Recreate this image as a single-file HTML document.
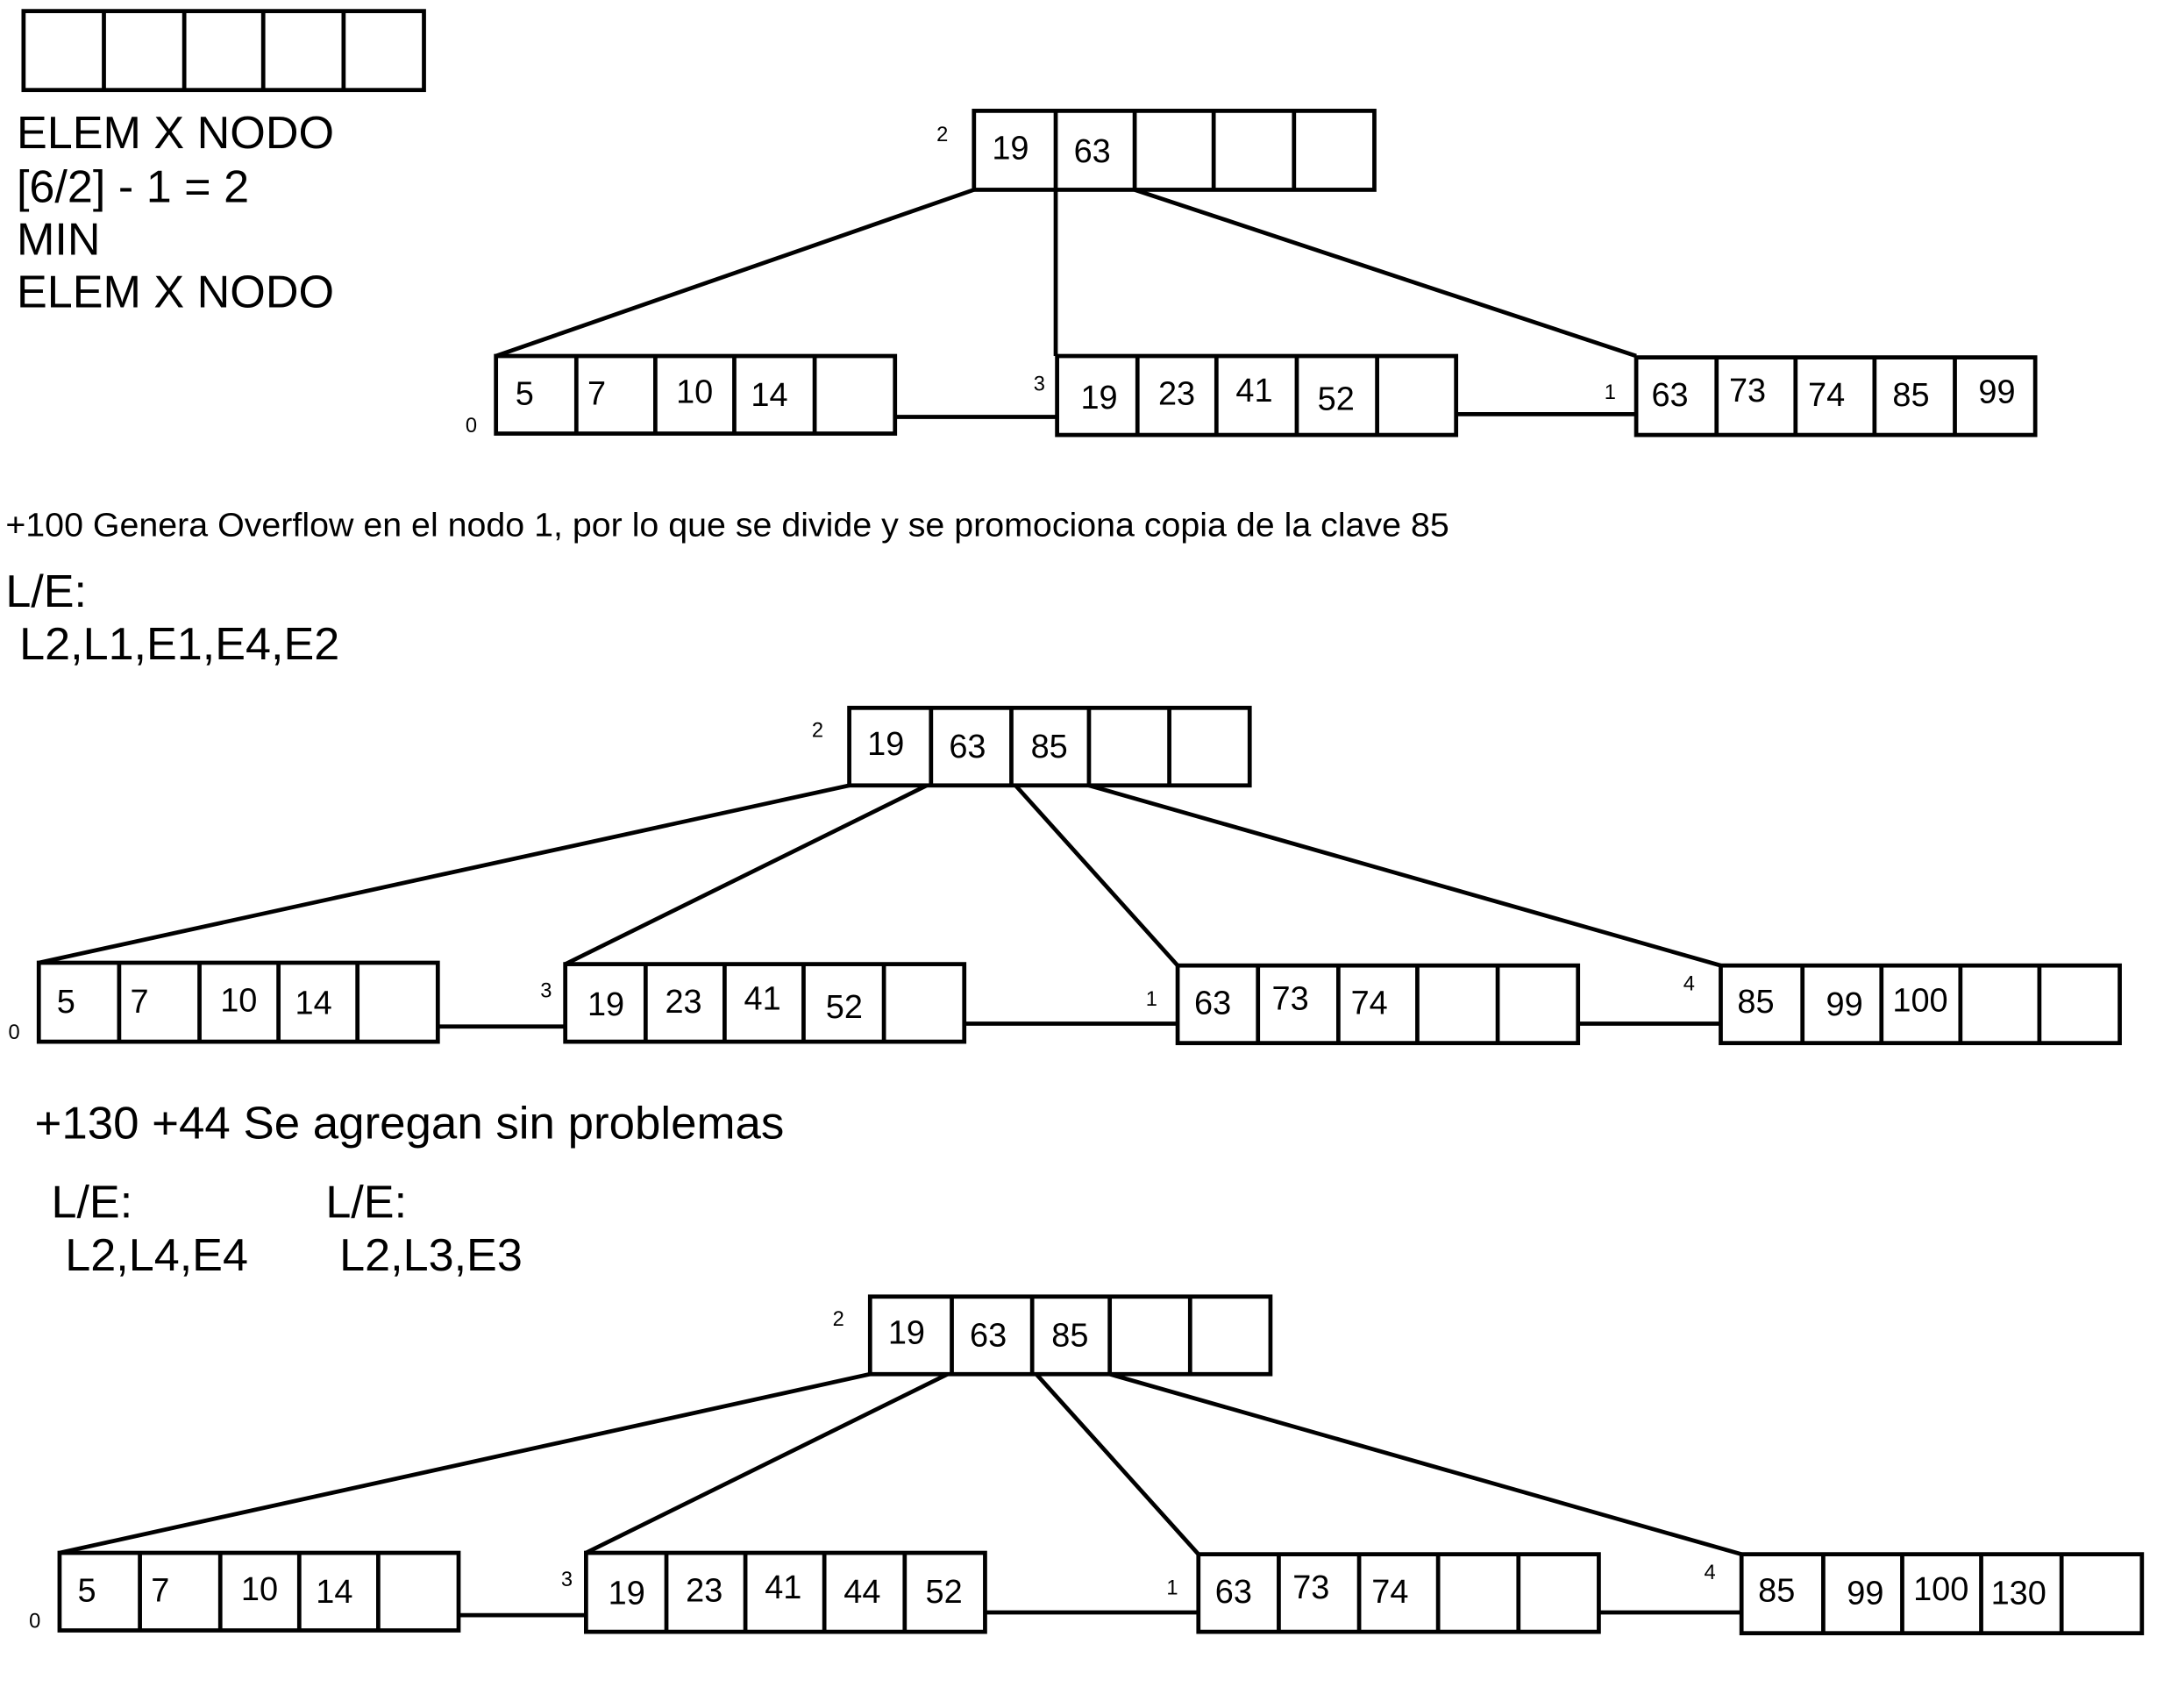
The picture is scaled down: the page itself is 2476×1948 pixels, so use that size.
<!DOCTYPE html>
<html><head><meta charset="utf-8"><style>
html,body{margin:0;padding:0;background:#fff;}
svg{display:block;}
text{font-family:"Liberation Sans",Arial,sans-serif;fill:#000;}
.c{font-size:24px;}
.s{font-size:15px;}
.b{font-size:33px;}
</style></head><body>
<svg width="2476" height="1948" viewBox="0 0 1567 1233" preserveAspectRatio="none" xmlns="http://www.w3.org/2000/svg">
<g fill="none" stroke="#000" stroke-width="3">
<rect x="17" y="8" width="289" height="57"/>
<path d="M75 8V65M133 8V65M190 8V65M248 8V65"/>
<rect x="703" y="80" width="289" height="57"/>
<path d="M762 80V137M819 80V137M876 80V137M934 80V137"/>
<rect x="358" y="257" width="288" height="56"/>
<path d="M416 257V313M473 257V313M530 257V313M588 257V313"/>
<rect x="763" y="257" width="288" height="57"/>
<path d="M821 257V314M878 257V314M936 257V314M994 257V314"/>
<rect x="1181" y="258" width="288" height="56"/>
<path d="M1239 258V314M1296 258V314M1353 258V314M1411 258V314"/>
<path d="M703 137L358 257M762 137V257M819 137L1181 257M646 301H763M1051 299H1181"/>
<rect x="613" y="511" width="289" height="56"/>
<path d="M672 511V567M730 511V567M786 511V567M844 511V567"/>
<rect x="28" y="695" width="288" height="57"/>
<path d="M86 695V752M144 695V752M201 695V752M258 695V752"/>
<rect x="408" y="696" width="288" height="56"/>
<path d="M466 696V752M523 696V752M580 696V752M638 696V752"/>
<rect x="850" y="697" width="289" height="56"/>
<path d="M908 697V753M966 697V753M1023 697V753M1081 697V753"/>
<rect x="1242" y="697" width="288" height="56"/>
<path d="M1301 697V753M1358 697V753M1415 697V753M1472 697V753"/>
<path d="M613 567L28 695M669 567L408 696M733 567L850 697M786 567L1242 697M316 741H408M696 739H850M1139 739H1242"/>
<rect x="628" y="936" width="289" height="56"/>
<path d="M687 936V992M745 936V992M801 936V992M859 936V992"/>
<rect x="43" y="1121" width="288" height="56"/>
<path d="M101 1121V1177M159 1121V1177M216 1121V1177M273 1121V1177"/>
<rect x="423" y="1121" width="288" height="57"/>
<path d="M481 1121V1178M538 1121V1178M595 1121V1178M653 1121V1178"/>
<rect x="865" y="1122" width="289" height="56"/>
<path d="M923 1122V1178M981 1122V1178M1038 1122V1178M1096 1122V1178"/>
<rect x="1257" y="1122" width="289" height="57"/>
<path d="M1316 1122V1179M1373 1122V1179M1430 1122V1179M1488 1122V1179"/>
<path d="M628 992L43 1121M684 992L423 1121M748 992L865 1122M801 992L1257 1122M331 1166H423M711 1164H865M1154 1164H1257"/>
</g>

<text class="b" x="12" y="107">ELEM X NODO</text>
<text class="b" x="12" y="146">[6/2] - 1 = 2</text>
<text class="b" x="12" y="184">MIN</text>
<text class="b" x="12" y="222">ELEM X NODO</text>

<text class="s" x="676" y="102">2</text>
<text class="c" x="716" y="115">19</text><text class="c" x="775" y="117">63</text>
<text class="s" x="336" y="312">0</text>
<text class="c" x="372" y="292">5</text><text class="c" x="424" y="292">7</text><text class="c" x="488" y="291">10</text><text class="c" x="542" y="293">14</text>
<text class="s" x="746" y="282">3</text>
<text class="c" x="780" y="295">19</text><text class="c" x="836" y="292">23</text><text class="c" x="892" y="290">41</text><text class="c" x="951" y="296">52</text>
<text class="s" x="1158" y="288">1</text>
<text class="c" x="1192" y="293">63</text><text class="c" x="1248" y="290">73</text><text class="c" x="1305" y="293">74</text><text class="c" x="1366" y="293">85</text><text class="c" x="1428" y="291">99</text>

<text x="4" y="387" style="font-size:24px" textLength="1042" lengthAdjust="spacingAndGlyphs">+100 Genera Overflow en el nodo 1, por lo que se divide y se promociona copia de la clave 85</text>
<text class="b" x="4" y="438">L/E:</text>
<text class="b" x="14" y="476">L2,L1,E1,E4,E2</text>

<text class="s" x="586" y="532">2</text>
<text class="c" x="626" y="545">19</text><text class="c" x="685" y="547">63</text><text class="c" x="744" y="547">85</text>
<text class="s" x="6" y="750">0</text>
<text class="c" x="41" y="731">5</text><text class="c" x="94" y="731">7</text><text class="c" x="159" y="730">10</text><text class="c" x="213" y="732">14</text>
<text class="s" x="390" y="720">3</text>
<text class="c" x="424" y="733">19</text><text class="c" x="480" y="731">23</text><text class="c" x="537" y="729">41</text><text class="c" x="596" y="735">52</text>
<text class="s" x="827" y="726">1</text>
<text class="c" x="862" y="732">63</text><text class="c" x="918" y="729">73</text><text class="c" x="975" y="732">74</text>
<text class="s" x="1215" y="715">4</text>
<text class="c" x="1254" y="731">85</text><text class="c" x="1318" y="733">99</text><text class="c" x="1366" y="730">100</text>

<text class="b" x="25" y="822" textLength="541" lengthAdjust="spacingAndGlyphs">+130 +44 Se agregan sin problemas</text>
<text class="b" x="37" y="879">L/E:</text>
<text class="b" x="47" y="917">L2,L4,E4</text>
<text class="b" x="235" y="879">L/E:</text>
<text class="b" x="245" y="917">L2,L3,E3</text>

<text class="s" x="601" y="957">2</text>
<text class="c" x="641" y="970">19</text><text class="c" x="700" y="972">63</text><text class="c" x="759" y="972">85</text>
<text class="s" x="21" y="1175">0</text>
<text class="c" x="56" y="1156">5</text><text class="c" x="109" y="1156">7</text><text class="c" x="174" y="1155">10</text><text class="c" x="228" y="1157">14</text>
<text class="s" x="405" y="1145">3</text>
<text class="c" x="439" y="1158">19</text><text class="c" x="495" y="1156">23</text><text class="c" x="552" y="1154">41</text><text class="c" x="609" y="1157">44</text><text class="c" x="668" y="1157">52</text>
<text class="s" x="842" y="1151">1</text>
<text class="c" x="877" y="1157">63</text><text class="c" x="933" y="1154">73</text><text class="c" x="990" y="1157">74</text>
<text class="s" x="1230" y="1140">4</text>
<text class="c" x="1269" y="1156">85</text><text class="c" x="1333" y="1158">99</text><text class="c" x="1381" y="1155">100</text><text class="c" x="1437" y="1158">130</text>
</svg>
</body></html>
